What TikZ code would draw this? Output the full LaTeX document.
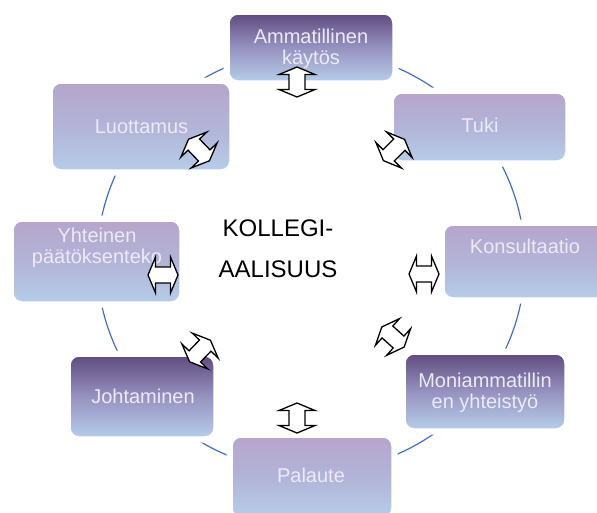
\documentclass[tikz,border=0pt]{standalone}
\usepackage{fontspec}
\setmainfont{Liberation Sans}
\definecolor{dkTop}{RGB}{96,76,128}
\definecolor{dkMid}{RGB}{150,146,192}
\definecolor{ltBot}{RGB}{182,204,232}
\definecolor{lgTop}{RGB}{182,165,203}
\definecolor{lgMid}{RGB}{178,180,216}
\definecolor{txtc}{RGB}{236,234,246}
\definecolor{ringc}{RGB}{70,110,180}
\begin{document}
\begin{tikzpicture}[x=1pt,y=-1pt,
  box/.style={rounded corners=9pt, draw=white, line width=1.5pt, inner sep=0pt,
    preaction={draw=white, line width=11pt}},
  darkbox/.style={box, top color=dkTop, bottom color=ltBot, middle color=dkMid},
  lightbox/.style={box, top color=lgTop, bottom color=ltBot, middle color=lgMid},
  lbl/.style={text=txtc, font=\fontsize{20}{21}\selectfont, align=center, inner sep=0pt},
  ring/.style={draw=ringc, line width=1.2pt},
  arrowline/.style={draw=black, fill=white, line width=1.3pt, line join=miter},
  dblarrow/.pic={\path[arrowline] (-15,0) -- (-7.5,-18) -- (-7.5,-8) -- (7.5,-8) -- (7.5,-18) -- (15,0) -- (7.5,18) -- (7.5,8) -- (-7.5,8) -- (-7.5,18) -- cycle;}
]
\useasboundingbox (0,0) rectangle (597,512);
% ring
\draw[ring] (311,261) ellipse [x radius=214pt, y radius=211pt];
% boxes
\node[darkbox, minimum width=164pt, minimum height=67pt] (amm) at (311,47.5) {};
\node[lightbox, minimum width=173pt, minimum height=68pt] (tuki) at (479.5,127) {};
\node[lightbox, minimum width=162pt, minimum height=73pt] (kons) at (525,261.5) {};
\node[darkbox, minimum width=160pt, minimum height=75pt] (moni) at (485,391.5) {};
\node[lightbox, minimum width=160pt, minimum height=80pt] (pal) at (312,477) {};
\node[darkbox, minimum width=144pt, minimum height=81pt] (joht) at (142,396.5) {};
\node[lightbox, minimum width=167pt, minimum height=81pt] (yht) at (96.5,261.5) {};
\node[lightbox, minimum width=178pt, minimum height=87pt] (luot) at (141,126.5) {};
% labels
\node[lbl] (tamm) at (311,49) {Ammatillinen\\käytös};
\node[lbl] (ttuki) at (480,125.5) {Tuki};
\node[lbl] (tkons) at (525,246) {Konsultaatio};
\node[lbl] (tmoni) at (485,393) {Moniammatillin\\en yhteistyö};
\node[lbl] (tpal) at (311,475) {Palaute};
\node[lbl] (tjoht) at (143,396.5) {Johtaminen};
\node[lbl] (tyht) at (97,248) {Yhteinen\\päätöksenteko};
\node[lbl] (tluot) at (141.5,126.5) {Luottamus};
\node[font=\fontsize{24}{41}\selectfont, align=center, inner sep=0pt] (center) at (278,249) {KOLLEGI-\\AALISUUS};
% arrows
\pic[rotate=90] at (297,82) {dblarrow};
\pic[rotate=45] at (394,150) {dblarrow};
\pic at (424,274) {dblarrow};
\pic[rotate=-42] at (393,337) {dblarrow};
\pic[rotate=90] at (297,418) {dblarrow};
\pic[rotate=46] at (200,351) {dblarrow};
\pic at (163,275) {dblarrow};
\pic[rotate=-46] at (199,150) {dblarrow};
\end{tikzpicture}
\end{document}
